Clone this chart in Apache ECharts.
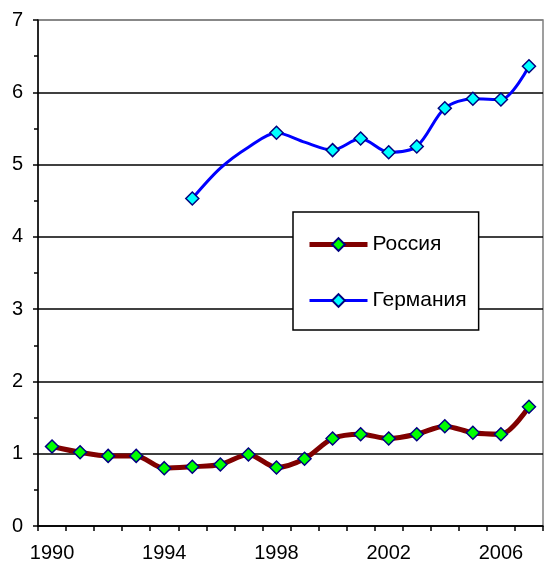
<!DOCTYPE html>
<html>
<head>
<meta charset="UTF-8">
<title>Россия / Германия</title>
<script src="https://cdn.jsdelivr.net/npm/echarts@6/dist/echarts.min.js"></script>
<style>
    body { margin: 0; padding: 0; background: #fff; }
    #chart { width: 546px; height: 567px; }
</style>
</head>
<body>
<div id="chart"></div>
<script>
// данные
const years = ['1990','1991','1992','1993','1994','1995','1996','1997','1998','1999',
               '2000','2001','2002','2003','2004','2005','2006','2007'];
const russia = [1.10, 1.02, 0.97, 0.97, 0.80, 0.82, 0.85, 0.99, 0.81, 0.93,
                1.21, 1.27, 1.21, 1.27, 1.38, 1.29, 1.27, 1.65];
const germany = [null, null, null, null, null, 4.53, 4.95, 5.24, 5.44, 5.31,
                 5.20, 5.36, 5.17, 5.25, 5.78, 5.91, 5.90, 6.36];
// годы без маркера на линии Германии
const noMarker = ['1996', '1997', '1999'];
const yTicks = [0, 1, 2, 3, 4, 5, 6, 7];

const chart = echarts.init(document.getElementById('chart'));
const font = 'Liberation Sans, Arial, sans-serif';

chart.setOption({
    animation: false,
    grid: {
        left: 38, right: 3, top: 20, bottom: 41,
        show: true, borderColor: '#808080', borderWidth: 1.5
    },
    legend: {
        orient: 'vertical',
        left: 293, top: 212,
        backgroundColor: '#fff',
        borderColor: '#000', borderWidth: 1.5,
        padding: [22, 12, 19, 14],
        itemGap: 35,
        itemWidth: 58, itemHeight: 16,
        textStyle: { fontFamily: font, fontSize: 21, color: '#000' },
        data: [
            { name: 'Россия', lineStyle: { width: 5 } },
            { name: 'Германия', lineStyle: { width: 3 } }
        ]
    },
    xAxis: {
        type: 'category',
        data: years,
        boundaryGap: true,
        axisLine: { lineStyle: { color: '#000', width: 1.5 } },
        axisTick: { show: true, interval: 0, length: 5, lineStyle: { color: '#000', width: 1.5 } },
        axisLabel: { interval: 3, color: '#000', fontFamily: font, fontSize: 20, margin: 17 },
        splitLine: { show: false }
    },
    yAxis: {
        type: 'value',
        min: yTicks[0], max: yTicks[yTicks.length - 1], interval: 1,
        axisLine: { show: true, lineStyle: { color: '#000', width: 1.5 } },
        axisTick: { show: true, length: 5, lineStyle: { color: '#000', width: 1.5 } },
        minorTick: { show: true, splitNumber: 2, length: 4, lineStyle: { color: '#000', width: 1.5 } },
        axisLabel: { color: '#000', fontFamily: font, fontSize: 20, margin: 15 },
        splitLine: {
            show: true,
            lineStyle: { color: ['#000','#000','#000','#000','#000','#000','#000','#808080'], width: 1.5 }
        }
    },
    series: [
        {
            name: 'Россия',
            type: 'line',
            data: russia,
            smooth: 0.3,
            symbol: 'diamond',
            symbolSize: 13,
            lineStyle: { color: '#800000', width: 5 },
            itemStyle: { color: '#00ff00', borderColor: '#000080', borderWidth: 1.5 }
        },
        {
            name: 'Германия',
            type: 'line',
            data: germany.map((v, i) => noMarker.includes(years[i]) ? { value: v, symbol: 'none' } : v),
            smooth: 0.3,
            symbol: 'diamond',
            symbolSize: 13,
            lineStyle: { color: '#0000ff', width: 3 },
            itemStyle: { color: '#00ffff', borderColor: '#000080', borderWidth: 1.5 }
        }
    ]
});
</script>
</body>
</html>
